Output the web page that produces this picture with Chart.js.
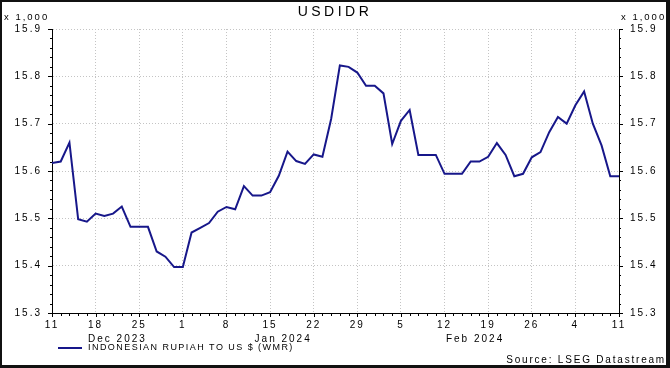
<!DOCTYPE html>
<html>
<head>
<meta charset="utf-8">
<script src="https://cdn.jsdelivr.net/npm/chart.js@4/dist/chart.umd.min.js"></script>
<style>
  html, body { margin: 0; padding: 0; background: #fff; }
  #wrap { width: 670px; height: 368px; }
</style>
</head>
<body>
<div id="wrap"><canvas id="chart" width="670" height="368"></canvas></div>
<script>
// USD/IDR daily (weekdays), 11 Dec 2023 - 11 Mar 2024, rupiah per dollar
const values = [
  15617, 15620, 15660, 15498, 15493, 15510, 15505, 15510, 15525, 15482,
  15482, 15482, 15430, 15419, 15397, 15397, 15470, 15480, 15490, 15514,
  15524, 15519, 15568, 15548, 15548, 15555, 15590, 15641, 15621, 15615,
  15635, 15630, 15710, 15823, 15820, 15808, 15780, 15780, 15764, 15657,
  15706, 15729, 15634, 15634, 15634, 15594, 15594, 15594, 15620, 15620,
  15630, 15659, 15634, 15589, 15594, 15629, 15640, 15682, 15714, 15700,
  15739, 15768, 15700, 15654, 15589, 15589
];
// one label every 5 trading days (Mondays)
const dayLabels = ['11', '18', '25', '1', '8', '15', '22', '29', '5', '12', '19', '26', '4', '11'];
const monthLabels = ['Dec 2023', 'Jan 2024', 'Feb 2024'];
const monthCenters = [7.5, 26.5, 48.5]; // in trading-day index
const seriesName = 'INDONESIAN RUPIAH TO US $ (WMR)';

const lineColor = '#17178a';
const gridColor = '#c4c4c4';
const font = 'Liberation Sans, Arial, sans-serif';

function txt(ctx, s, x, y, size, align, spacing) {
  ctx.save();
  ctx.font = size + 'px ' + font;
  ctx.fillStyle = '#000';
  ctx.textAlign = align;
  ctx.textBaseline = 'middle';
  ctx.letterSpacing = spacing + 'px';
  ctx.fillText(s, x, y);
  ctx.restore();
}

const decor = {
  id: 'decor',
  beforeDraw(chart) {
    const ctx = chart.ctx;
    ctx.save();
    ctx.fillStyle = '#fff';
    ctx.fillRect(0, 0, chart.width, chart.height);
    ctx.restore();
    ctx.letterSpacing = '2px';
  },
  afterDraw(chart) {
    const ctx = chart.ctx;
    const area = chart.chartArea;
    const xs = chart.scales.x, ys = chart.scales.y;

    // tick marks (major + minor)
    ctx.save();
    ctx.strokeStyle = '#000';
    ctx.lineWidth = 1;
    ctx.beginPath();
    for (let v = ys.min; v <= ys.max; v += 20) {
      const py = Math.round(ys.getPixelForValue(v)) + 0.5;
      const len = v % 100 === 0 ? 4 : 2;
      ctx.moveTo(area.left - len, py); ctx.lineTo(area.left, py);
      ctx.moveTo(area.right, py); ctx.lineTo(area.right + len, py);
    }
    for (let i = xs.min; i <= xs.max; i++) {
      const px = Math.round(xs.getPixelForValue(i)) + 0.5;
      const len = i % 5 === 0 ? 4 : 3;
      ctx.moveTo(px, area.bottom); ctx.lineTo(px, area.bottom + len);
    }
    ctx.stroke();
    ctx.restore();

    // texts
    txt(ctx, 'USDIDR', 335, 12, 14, 'center', 3.5);
    txt(ctx, 'x 1,000', 4, 17, 9.5, 'left', 2);
    txt(ctx, 'x 1,000', 621, 17, 9.5, 'left', 2);

    // legend
    ctx.save();
    ctx.strokeStyle = lineColor;
    ctx.lineWidth = 2;
    ctx.beginPath();
    ctx.moveTo(58, 348); ctx.lineTo(82, 348);
    ctx.stroke();
    ctx.restore();
    txt(ctx, seriesName, 88, 348, 9, 'left', 1.45);

    txt(ctx, 'Source: LSEG Datastream', 666, 360, 10, 'right', 1.8);

    // frame
    ctx.save();
    ctx.fillStyle = '#111';
    ctx.fillRect(0, 0, 670, 2);
    ctx.fillRect(0, 0, 2, 368);
    ctx.fillRect(666, 0, 4, 368);
    ctx.fillRect(0, 365, 670, 3);
    ctx.restore();
  }
};

new Chart(document.getElementById('chart'), {
  type: 'line',
  data: {
    datasets: [{
      label: seriesName,
      data: values.map((v, i) => ({ x: i, y: v })),
      borderColor: lineColor,
      borderWidth: 2,
      pointRadius: 0,
      tension: 0,
      yAxisID: 'y',
      xAxisID: 'x'
    }]
  },
  options: {
    responsive: false,
    animation: false,
    layout: { padding: { top: 29, left: 0, right: 0, bottom: 0 } },
    plugins: { legend: { display: false }, title: { display: false }, tooltip: { enabled: false } },
    scales: {
      x: {
        type: 'linear',
        position: 'bottom',
        weight: 0,
        min: 0,
        max: values.length - 1,
        afterFit(s) { s.height = 20; },
        grid: { color: gridColor, lineWidth: 1, drawTicks: false },
        border: { display: true, color: '#000', width: 1, dash: [1, 2] },
        ticks: {
          stepSize: 1,
          autoSkip: false,
          maxRotation: 0,
          padding: 6,
          color: '#000',
          font: { family: font, size: 10 },
          callback: (v) => (v % 5 === 0 ? dayLabels[v / 5] : null)
        }
      },
      xm: {
        type: 'linear',
        position: 'bottom',
        weight: 1,
        min: 0,
        max: values.length - 1,
        afterBuildTicks(s) { s.ticks = monthCenters.map(v => ({ value: v })); },
        afterFit(s) { s.height = 35; },
        grid: { display: false, drawTicks: false },
        border: { display: false },
        ticks: {
          autoSkip: false,
          maxRotation: 0,
          padding: 0,
          color: '#000',
          font: { family: font, size: 10 },
          callback: (v, i) => monthLabels[i]
        }
      },
      y: {
        position: 'left',
        min: 15300,
        max: 15900,
        afterFit(s) { s.width = 52; },
        grid: { color: gridColor, lineWidth: 1, drawTicks: false },
        border: { display: true, color: '#000', width: 1, dash: [1, 2] },
        ticks: {
          stepSize: 100,
          padding: 10,
          color: '#000',
          font: { family: font, size: 10 },
          callback: (v) => (v / 1000).toFixed(1)
        }
      },
      y2: {
        position: 'right',
        min: 15300,
        max: 15900,
        afterFit(s) { s.width = 51; },
        grid: { display: false, drawTicks: false },
        border: { display: true, color: '#000', width: 1 },
        ticks: {
          stepSize: 100,
          padding: 11,
          color: '#000',
          font: { family: font, size: 10 },
          callback: (v) => (v / 1000).toFixed(1)
        }
      }
    }
  },
  plugins: [decor]
});
</script>
</body>
</html>
